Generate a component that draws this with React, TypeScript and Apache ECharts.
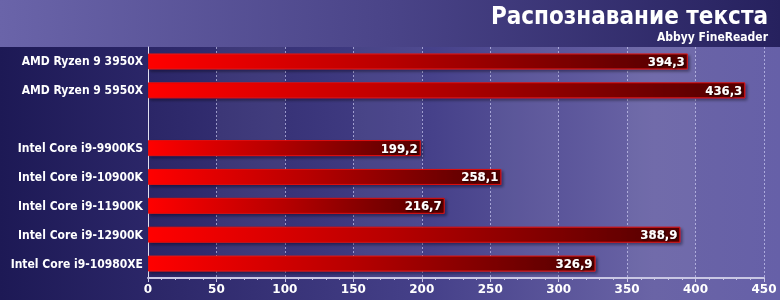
import React, { useEffect, useRef } from "react";
import * as echarts from "echarts";

const categories = [
  "AMD Ryzen 9 3950X",
  "AMD Ryzen 9 5950X",
  "",
  "Intel Core i9-9900KS",
  "Intel Core i9-10900K",
  "Intel Core i9-11900K",
  "Intel Core i9-12900K",
  "Intel Core i9-10980XE",
];
const values: (number | string)[] = [394.3, 436.3, "-", 199.2, 258.1, 216.7, 388.9, 326.9];
const xTicks = [0, 50, 100, 150, 200, 250, 300, 350, 400, 450];
const titleText = "Распознавание текста";
const subtitleText = "Abbyy FineReader";

const FONT = "DejaVu Sans";
const CFONT = "DejaVu Sans Condensed";

export default function App() {
  const ref = useRef<HTMLDivElement>(null);
  useEffect(() => {
    const chart = echarts.init(ref.current!, undefined, { renderer: "svg" });
    const lg = (x2: number, y2: number, stops: [number, string][]) =>
      new echarts.graphic.LinearGradient(0, 0, x2, y2, stops.map(([offset, color]) => ({ offset, color })));
    chart.setOption({
      animation: false,
      textStyle: { fontFamily: FONT },
      graphic: [
        {
          type: "rect",
          z: -10,
          silent: true,
          shape: { x: 0, y: 0, width: 780, height: 47 },
          style: { fill: lg(1, 0, [[0, "#6a64a9"], [0.5, "#4a4488"], [1, "#26215e"]]) },
        },
        {
          type: "rect",
          z: -10,
          silent: true,
          shape: { x: 0, y: 47, width: 148, height: 253 },
          style: { fill: lg(1, 0, [[0, "#1d1955"], [1, "#2b2668"]]) },
        },
        {
          type: "rect",
          z: -10,
          silent: true,
          shape: { x: 148, y: 47, width: 632, height: 253 },
          style: { fill: lg(1, 0, [[0, "#2b2667"], [0.45, "#46418a"], [0.8, "#6a64a6"], [1, "#6660a8"]]) },
        },
        {
          type: "text",
          right: 12,
          top: 4,
          style: {
            text: titleText,
            fill: "#ffffff",
            font: `bold 24px "${CFONT}", "${FONT}"`,
          },
        },
        {
          type: "text",
          right: 12,
          top: 31,
          style: {
            text: subtitleText,
            fill: "#ffffff",
            font: `bold 12px "${CFONT}", "${FONT}"`,
          },
        },
      ],
      grid: { left: 148, right: 16, top: 47, bottom: 22 },
      xAxis: {
        type: "value",
        min: xTicks[0],
        max: xTicks[xTicks.length - 1],
        interval: 50,
        axisLine: { show: true, lineStyle: { color: "#c9c7e4", width: 2 } },
        axisTick: { show: true, length: 4, lineStyle: { color: "#c9c7e4" } },
        minorTick: { show: true, splitNumber: 5, length: 2, lineStyle: { color: "#c9c7e4" } },
        axisLabel: { color: "#ffffff", fontWeight: "bold", fontSize: 12, margin: 5, fontFamily: FONT },
        splitLine: { show: true, lineStyle: { color: "rgba(220,220,255,0.6)", type: [2, 2], width: 1 } },
        splitArea: {
          show: true,
          areaStyle: { color: ["rgba(255,255,255,0)", "rgba(255,255,255,0.05)"] },
        },
      },
      yAxis: {
        type: "category",
        inverse: true,
        data: categories,
        axisLine: { show: true, lineStyle: { color: "#e0e0f0", width: 1 } },
        axisTick: { show: false },
        axisLabel: { color: "#ffffff", fontWeight: "bold", fontSize: 12, margin: 5, fontFamily: CFONT },
        splitLine: { show: false },
      },
      series: [
        {
          type: "bar",
          data: values,
          barWidth: 16,
          itemStyle: {
            color: lg(1, 0, [[0, "#ff0000"], [0.45, "#b80000"], [1, "#520000"]]),
            borderColor: "#e01010",
            borderWidth: 1,
            shadowColor: "rgba(0,0,20,0.45)",
            shadowBlur: 3,
            shadowOffsetX: 2,
            shadowOffsetY: 2,
          },
          label: {
            show: true,
            position: "insideRight",
            distance: 3,
            color: "#ffffff",
            fontWeight: "bold",
            fontSize: 13,
            fontFamily: CFONT,
            textShadowColor: "rgba(0,0,0,0.8)",
            textShadowBlur: 2,
            textShadowOffsetX: 1,
            textShadowOffsetY: 1,
            formatter: (p: any) => String(p.value).replace(".", ","),
          },
        },
      ],
    });
    return () => chart.dispose();
  }, []);
  return <div ref={ref} style={{ width: 780, height: 300, position: "fixed", left: 0, top: 0 }} />;
}
